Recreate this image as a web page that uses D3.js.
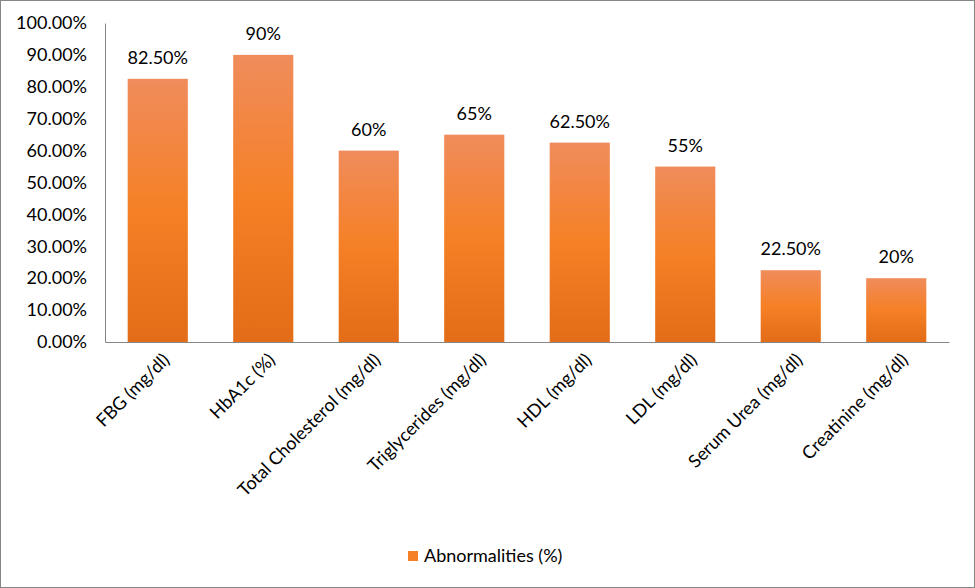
<!DOCTYPE html>
<html>
<head>
<meta charset="utf-8">
<script src="https://cdn.jsdelivr.net/npm/d3@7"></script>
<style>
  body { margin: 0; background: #fff; }
  text { font-family: Lato, "Open Sans", sans-serif; fill: #000; }
</style>
</head>
<body>
<div id="chart"></div>
<script>
// chart data
var categories = ["FBG (mg/dl)", "HbA1c (%)", "Total Cholesterol (mg/dl)", "Triglycerides (mg/dl)",
  "HDL (mg/dl)", "LDL (mg/dl)", "Serum Urea (mg/dl)", "Creatinine (mg/dl)"];
var values = [82.5, 90, 60, 65, 62.5, 55, 22.5, 20];
var valueLabels = ["82.50%", "90%", "60%", "65%", "62.50%", "55%", "22.50%", "20%"];
var yTicks = [0, 10, 20, 30, 40, 50, 60, 70, 80, 90, 100];
var seriesName = "Abnormalities (%)";

var W = 975, H = 588;
var margin = { top: 23, right: 26, bottom: 246, left: 105 };
var width = W - margin.left - margin.right;
var height = H - margin.top - margin.bottom;
var fontSize = "18px";

var svg = d3.select("#chart").append("svg")
  .attr("width", W)
  .attr("height", H);

// outer frame
svg.append("rect")
  .attr("x", 0.5).attr("y", 0.5)
  .attr("width", W - 1).attr("height", H - 1)
  .attr("fill", "#fff")
  .attr("stroke", "#868686");

var grad = svg.append("defs").append("linearGradient")
  .attr("id", "barFill")
  .attr("x1", 0).attr("y1", 0).attr("x2", 0).attr("y2", 1);
grad.append("stop").attr("offset", "0%").attr("stop-color", "#f08c5c");
grad.append("stop").attr("offset", "50%").attr("stop-color", "#f58025");
grad.append("stop").attr("offset", "100%").attr("stop-color", "#e36c18");

var g = svg.append("g")
  .attr("transform", `translate(${margin.left}, ${margin.top})`);

var x = d3.scaleBand()
  .domain(categories)
  .range([0, width])
  .paddingInner(0.43)
  .paddingOuter(0.215);

var y = d3.scaleLinear()
  .domain([0, 100])
  .range([height, 0]);

// bars
g.selectAll("rect.bar")
  .data(values)
  .join("rect")
  .attr("class", "bar")
  .attr("x", (d, i) => x(categories[i]))
  .attr("y", d => y(d))
  .attr("width", x.bandwidth())
  .attr("height", d => height - y(d))
  .attr("fill", "url(#barFill)");

// value labels
g.selectAll("text.val")
  .data(values)
  .join("text")
  .attr("class", "val")
  .attr("x", (d, i) => x(categories[i]) + x.bandwidth() / 2)
  .attr("y", d => y(d) - 15)
  .attr("text-anchor", "middle")
  .attr("font-size", fontSize)
  .text((d, i) => valueLabels[i]);

// y axis
var yAxis = g.append("g")
  .call(d3.axisLeft(y).tickValues(yTicks).tickSize(0).tickPadding(18)
    .tickFormat(d => d.toFixed(2) + "%"));
yAxis.select(".domain").attr("stroke", "#868686");
yAxis.selectAll("text").attr("font-size", fontSize).attr("font-family", "Lato, 'Open Sans', sans-serif");

// x axis
var xAxis = g.append("g")
  .attr("transform", `translate(0, ${height})`)
  .call(d3.axisBottom(x).tickSize(0).tickPadding(0));
xAxis.select(".domain").attr("stroke", "#868686");
xAxis.selectAll("text")
  .attr("font-size", fontSize)
  .attr("font-family", "Lato, 'Open Sans', sans-serif")
  .attr("text-anchor", "end")
  .attr("dy", null)
  .attr("transform", "translate(13, 19) rotate(-45)");

// legend
var legend = svg.append("g")
  .attr("transform", "translate(408, 551)");
legend.append("rect")
  .attr("width", 10).attr("height", 10)
  .attr("fill", "#f58025");
legend.append("text")
  .attr("x", 16).attr("y", 11)
  .attr("font-size", fontSize)
  .text(seriesName);
</script>
</body>
</html>
